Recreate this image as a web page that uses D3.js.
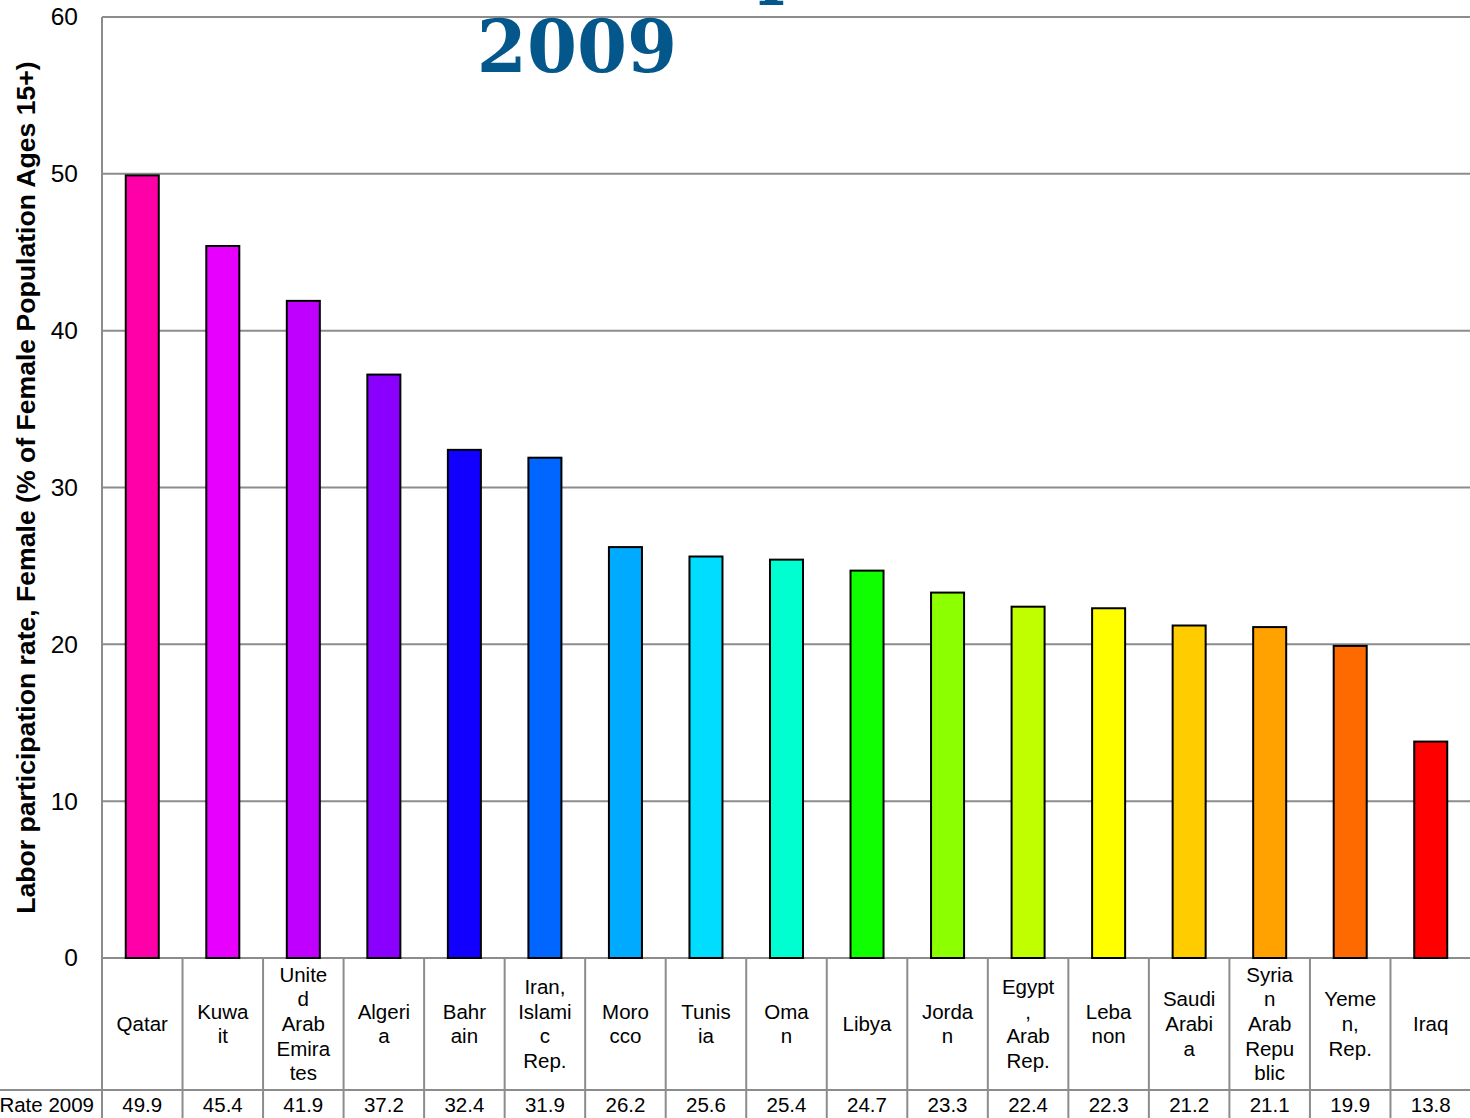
<!DOCTYPE html>
<html>
<head>
    <title>Female labor participation 2009</title>
    <script src="https://cdn.jsdelivr.net/npm/d3@7"></script>
    <style>
        body { margin: 0; background: #fff; }
        svg { font-family: "Liberation Sans", Arial, sans-serif; }
    </style>
</head>
<body>
    <svg width="1470" height="1118" id="mainsvg"></svg>
    <script>
        // data
        const countries = ['Qatar', 'Kuwait', 'United Arab Emirates', 'Algeria', 'Bahrain',
            'Iran, Islamic Rep.', 'Morocco', 'Tunisia', 'Oman', 'Libya', 'Jordan',
            'Egypt, Arab Rep.', 'Lebanon', 'Saudi Arabia', 'Syrian Arab Republic',
            'Yemen, Rep.', 'Iraq'];
        const rates = [49.9, 45.4, 41.9, 37.2, 32.4, 31.9, 26.2, 25.6, 25.4, 24.7, 23.3,
            22.4, 22.3, 21.2, 21.1, 19.9, 13.8];
        // how the names wrap in the table cells
        const labelLines = [['Qatar'], ['Kuwa', 'it'], ['Unite', 'd', 'Arab', 'Emira', 'tes'],
            ['Algeri', 'a'], ['Bahr', 'ain'], ['Iran,', 'Islami', 'c', 'Rep.'], ['Moro', 'cco'],
            ['Tunis', 'ia'], ['Oma', 'n'], ['Libya'], ['Jorda', 'n'], ['Egypt', ',', 'Arab', 'Rep.'],
            ['Leba', 'non'], ['Saudi', 'Arabi', 'a'], ['Syria', 'n', 'Arab', 'Repu', 'blic'],
            ['Yeme', 'n,', 'Rep.'], ['Iraq']];
        const barColors = ['#ff00a8', '#e800ff', '#bf00ff', '#8a00ff', '#1200ff', '#0066ff',
            '#00aaff', '#00ddff', '#00ffd0', '#10ff00', '#8cff00', '#c0ff00', '#ffff00',
            '#ffcc00', '#ffa200', '#ff6a00', '#ff0000'];
        const yTicks = [0, 10, 20, 30, 40, 50, 60];
        const seriesName = 'Rate 2009';
        const titleLines = ['Female Participation', '2009'];

        const svg = d3.select('svg');
        const mLeft = 102, mTop = 17, mBottom = 958, mRight = 1471;
        const rowSplit = 1090, tableBottom = 1118;

        const x = d3.scaleBand().domain(countries).range([mLeft, mRight]);
        const y = d3.scaleLinear().domain([0, 60]).range([mBottom, mTop]);
        const color = d3.scaleOrdinal().domain(countries).range(barColors);

        // gridlines
        svg.append('g').selectAll('line').data(yTicks).join('line')
            .attr('x1', mLeft).attr('x2', 1470)
            .attr('y1', d => y(d)).attr('y2', d => y(d))
            .attr('stroke', '#8c8c8c').attr('stroke-width', 2);
        svg.append('line').attr('x1', mLeft).attr('x2', mLeft).attr('y1', mTop).attr('y2', tableBottom)
            .attr('stroke', '#8c8c8c').attr('stroke-width', 2);

        // y axis labels
        const yAxis = svg.append('g').attr('transform', `translate(${mLeft},0)`)
            .call(d3.axisLeft(y).tickValues(yTicks).tickSize(0).tickPadding(24));
        yAxis.select('.domain').remove();
        yAxis.attr('font-family', null);
        yAxis.selectAll('text').attr('font-size', 24.5).attr('fill', '#000');

        // bars
        const bw = x.bandwidth() * 0.41;
        svg.append('g').selectAll('rect').data(countries).join('rect')
            .attr('x', d => x(d) + (x.bandwidth() - bw) / 2)
            .attr('y', (d, i) => y(rates[i]))
            .attr('width', bw)
            .attr('height', (d, i) => y(0) - y(rates[i]))
            .attr('fill', d => color(d))
            .attr('stroke', '#000').attr('stroke-width', 2);

        // y title
        svg.append('text')
            .attr('transform', `translate(35,${(60 + 915) / 2}) rotate(-90)`)
            .attr('text-anchor', 'middle')
            .attr('font-size', 26.6).attr('font-weight', 'bold')
            .text('Labor participation rate, Female (% of Female Population Ages 15+)');

        // title (first line runs off the top, only a descender shows)
        const t1 = svg.append('text')
            .style('font-family', '"DejaVu Serif", serif').attr('font-weight', 'bold')
            .attr('font-size', 72).attr('fill', '#04578a')
            .attr('y', -10)
            .text(titleLines[0]);
        const pIdx = titleLines[0].indexOf('p');
        const pOff = t1.node().getSubStringLength(0, pIdx);
        t1.attr('x', 758 - pOff);
        svg.append('text')
            .style('font-family', '"DejaVu Serif", serif').attr('font-weight', 'bold')
            .attr('font-size', 72).attr('fill', '#04578a')
            .attr('x', 577).attr('y', 72).attr('text-anchor', 'middle')
            .text(titleLines[1]);

        // data table
        const table = svg.append('g');
        const cols = countries.map(c => x(c)).concat([mRight]);
        table.selectAll('line.v').data(cols).join('line').attr('class', 'v')
            .attr('x1', d => d).attr('x2', d => d)
            .attr('y1', mBottom).attr('y2', tableBottom)
            .attr('stroke', '#8c8c8c').attr('stroke-width', 2);
        table.append('line').attr('x1', 0).attr('x2', 1470)
            .attr('y1', rowSplit).attr('y2', rowSplit)
            .attr('stroke', '#8c8c8c').attr('stroke-width', 2);

        const lh = 24.6;
        table.selectAll('text.cat').data(countries).join('text').attr('class', 'cat')
            .attr('text-anchor', 'middle').attr('font-size', 20.5)
            .each(function (d, i) {
                const lines = labelLines[i];
                const y0 = 1024 - (lines.length - 1) * lh / 2 + 7;
                d3.select(this).selectAll('tspan').data(lines).join('tspan')
                    .attr('x', x(d) + x.bandwidth() / 2)
                    .attr('y', (l, j) => y0 + j * lh)
                    .text(l => l);
            });
        table.selectAll('text.val').data(countries).join('text').attr('class', 'val')
            .attr('text-anchor', 'middle').attr('font-size', 20.5)
            .attr('x', d => x(d) + x.bandwidth() / 2)
            .attr('y', 1112)
            .text((d, i) => rates[i].toFixed(1));
        table.append('text').attr('text-anchor', 'end').attr('font-size', 20.5)
            .attr('x', 94).attr('y', 1112).text(seriesName);
    </script>
</body>
</html>
